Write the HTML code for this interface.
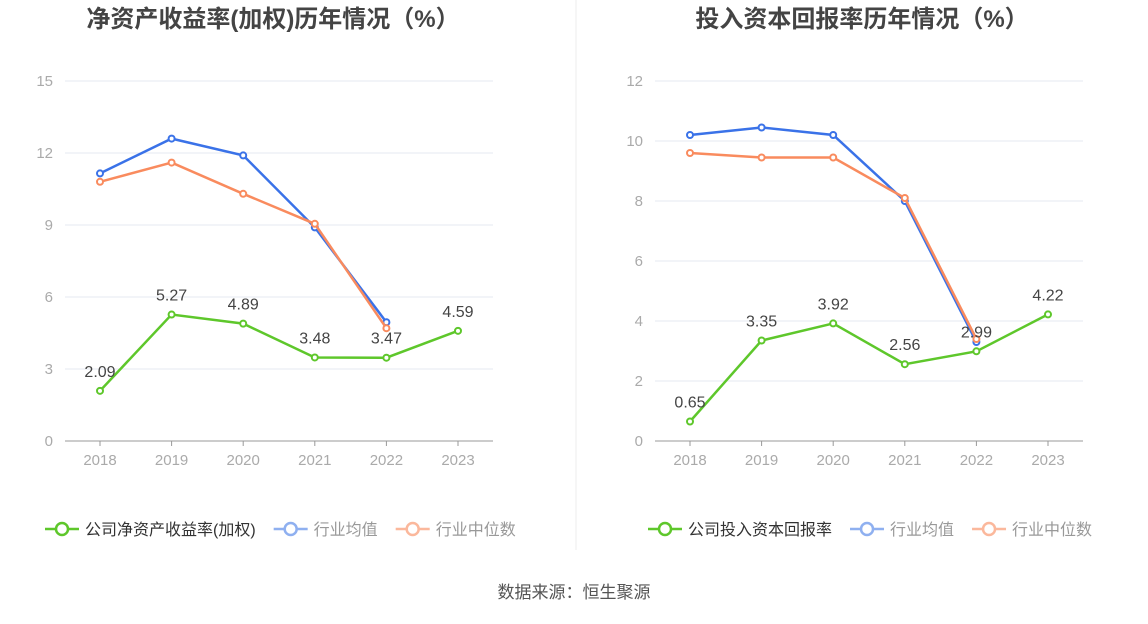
<!DOCTYPE html>
<html><head><meta charset="utf-8"><style>
body{margin:0;background:#fff;font-family:"Liberation Sans","Noto Sans CJK SC",sans-serif;}
svg text{font-family:"Liberation Sans","Noto Sans CJK SC",sans-serif;}
</style></head><body>
<svg id="s" width="1148" height="619" xmlns="http://www.w3.org/2000/svg">
<line x1="576" y1="0" x2="576" y2="550" stroke="#eee"/>
<text x="574" y="598" text-anchor="middle" font-size="17" fill="#555">数据来源：恒生聚源</text>
</svg>
<script>
const years=['2018','2019','2020','2021','2022','2023'];
const roeCompany=[2.09,5.27,4.89,3.48,3.47,4.59];
const roeAvg=[11.15,12.6,11.9,8.9,4.95];
const roeMed=[10.8,11.6,10.3,9.05,4.7];
const roeTicks=[0,3,6,9,12,15];
const roicCompany=[0.65,3.35,3.92,2.56,2.99,4.22];
const roicAvg=[10.2,10.45,10.2,8.0,3.3];
const roicMed=[9.6,9.45,9.45,8.1,3.4];
const roicTicks=[0,2,4,6,8,10,12];
const svg=document.getElementById('s');
const NS='http://www.w3.org/2000/svg';
function mk(t,a,p){const e=document.createElementNS(NS,t);for(const k in a)e.setAttribute(k,a[k]);(p||svg).appendChild(e);return e;}
function chart(cfg){
  const g=mk('g',{});
  
  
  const max=cfg.ticks[cfg.ticks.length-1];
  const y=v=>441-v/max*360;
  const x=i=>cfg.x0+i*(cfg.x1-cfg.x0)/5;
  const t=mk('text',{x:cfg.cx,y:27,'text-anchor':'middle','font-size':24,'font-weight':'bold',fill:'#444'},g);t.textContent=cfg.title;
  
  
  cfg.ticks.forEach(v=>{
    if(v>0){const l=mk('line',{x1:cfg.ax0,x2:cfg.ax1,y1:y(v),y2:y(v),stroke:'#e6e9f0'},g);
    
    }
    const tt=mk('text',{x:cfg.ax0-12,y:y(v)+5,'text-anchor':'end','font-size':15,fill:'#aaa'},g);tt.textContent=v;
    
    
  });
  const ax=mk('line',{x1:cfg.ax0,x2:cfg.ax1,y1:441,y2:441,stroke:'#999'},g);
  
  
  years.forEach((yr,i)=>{
    const tk=mk('line',{x1:x(i),x2:x(i),y1:441,y2:446,stroke:'#999'},g);
    
    
    const tl=mk('text',{x:x(i),y:465,'text-anchor':'middle','font-size':15,fill:'#aaa'},g);tl.textContent=yr;
    
    
  });
  const series=[[cfg.avg,'#3a72e8','series-industry-avg'],[cfg.med,'#f98b5e','series-industry-median'],[cfg.comp,'#5ec72b','series-company']];
  series.forEach(([d,c,n])=>{
    const pl=mk('polyline',{points:d.map((v,i)=>x(i)+','+y(v)).join(' '),fill:'none',stroke:c,'stroke-width':2.5},g);
    
    
    d.forEach((v,i)=>{const p=mk('circle',{cx:x(i),cy:y(v),r:3,fill:'#fff',stroke:c,'stroke-width':2},g);
      
      });
  });
  cfg.comp.forEach((v,i)=>{const l=mk('text',{x:x(i),y:y(v)-14,'text-anchor':'middle','font-size':16,fill:'#444'},g);l.textContent=v.toFixed(2);
    
    });
  let lx=cfg.lx;
  [[cfg.lname,'#5ec72b','#333'],['行业均值','#8fb0f0','#999'],['行业中位数','#fbb89c','#999']].forEach(([txt,c,tc])=>{
    const lg=mk('g',{},g);
    
    
    mk('line',{x1:lx,x2:lx+34,y1:529,y2:529,stroke:c,'stroke-width':2.5},lg);
    mk('circle',{cx:lx+17,cy:529,r:6,fill:'#fff',stroke:c,'stroke-width':2.5},lg);
    const tt=mk('text',{x:lx+40,y:535,'font-size':16,fill:tc},lg);tt.textContent=txt;
    lx+=40+tt.getComputedTextLength()+18;
  });
}
chart({name:'roe-chart',title:'净资产收益率(加权)历年情况（%）',cx:273,x0:100,x1:458,ax0:65,ax1:493,ticks:roeTicks,comp:roeCompany,avg:roeAvg,med:roeMed,lx:45,lname:'公司净资产收益率(加权)'});
chart({name:'roic-chart',title:'投入资本回报率历年情况（%）',cx:862,x0:690,x1:1048,ax0:655,ax1:1083,ticks:roicTicks,comp:roicCompany,avg:roicAvg,med:roicMed,lx:648,lname:'公司投入资本回报率'});
</script>
</body></html>
